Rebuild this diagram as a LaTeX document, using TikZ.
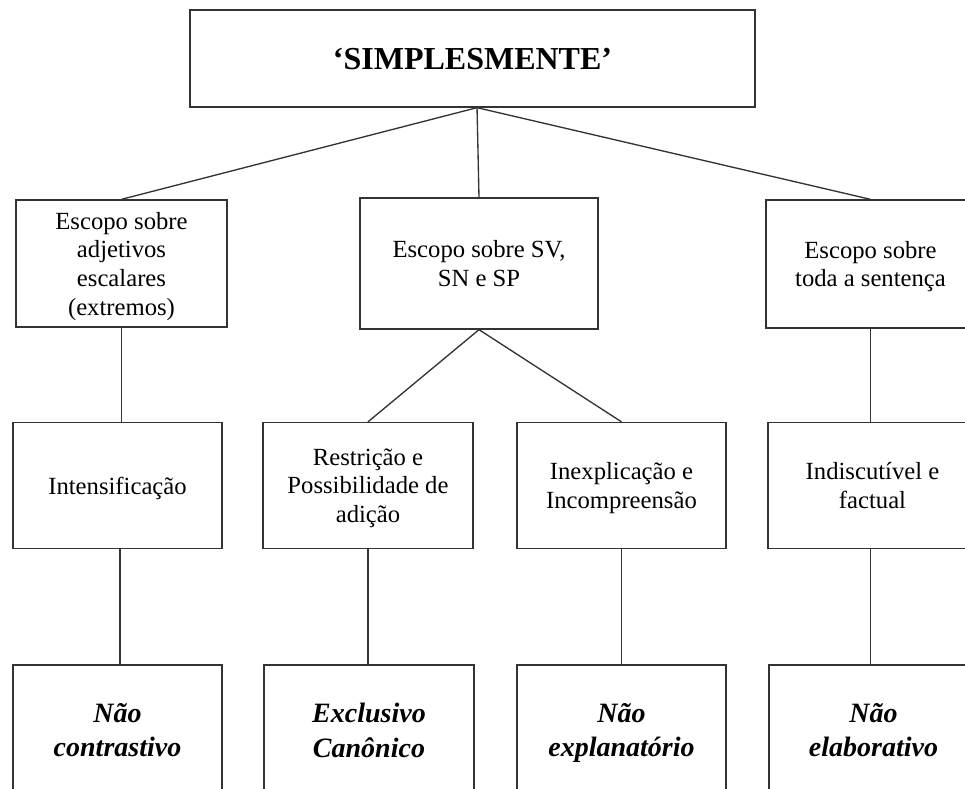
\documentclass[tikz,border=0pt]{standalone}
\usepackage{fontspec}
\setmainfont{Liberation Serif}
\usetikzlibrary{shapes,arrows,positioning}

\begin{document}
\begin{tikzpicture}[x=0.75pt, y=-0.75pt,
  box/.style={draw=black!80, line width=1pt, rectangle, align=center, inner sep=2pt,
    text depth=0pt, font=\fontsize{18.5}{21.5}\selectfont},
  head/.style={box, font=\fontsize{24}{28}\selectfont\bfseries},
  tipo/.style={box, font=\fontsize{21}{26}\selectfont\bfseries\itshape},
  link/.style={draw=black!80, line width=1pt}]
\useasboundingbox (0,0) rectangle (965,789);
\clip (0,0) rectangle (965,789);

\node (simplesmente) [head, minimum width=423.75pt, minimum height=72.75pt] at (472.5,58.5) {‘SIMPLESMENTE’};

\node (adjetivos) [box, minimum width=158.25pt, minimum height=95.25pt] at (121.5,263.5) {Escopo sobre\\adjetivos\\escalares\\(extremos)};
\node (sintagmas) [box, minimum width=178.5pt, minimum height=98.25pt] at (479,263.5) {Escopo sobre SV,\\SN e SP};
\node (sentenca) [box, minimum width=156.75pt, minimum height=96pt] at (870.5,264) {Escopo sobre\\toda a sentença};

\node (intens) [box, minimum width=156.75pt, minimum height=94.5pt] at (117.5,485.5) {Intensificação};
\node (restricao) [box, minimum width=157.5pt, minimum height=94.5pt] at (368,485.5) {Restrição e\\Possibilidade de\\adição};
\node (inexpl) [box, minimum width=156.75pt, minimum height=94.5pt] at (621.5,485.5) {Inexplicação e\\Incompreensão};
\node (indisc) [box, minimum width=156.75pt, minimum height=94.5pt] at (872.5,485.5) {Indiscutível e\\factual};

\node (contrast) [tipo, minimum width=156.75pt, minimum height=97.5pt] at (117.5,730) {Não\\contrastivo};
\node (exclusivo) [tipo, minimum width=157.5pt, minimum height=97.5pt] at (369,730) {Exclusivo\\Canônico};
\node (explan) [tipo, minimum width=156.75pt, minimum height=97.5pt] at (621.5,730) {Não\\explanatório};
\node (elab) [tipo, minimum width=156.75pt, minimum height=97.5pt] at (873.5,730) {Não\\elaborativo};

\draw[link] ([xshift=3.4pt]simplesmente.south) -- (adjetivos.north);
\draw[link] ([xshift=3.4pt]simplesmente.south) -- (sintagmas.north);
\draw[link] ([xshift=3.4pt]simplesmente.south) -- (sentenca.north);

\draw[link] (adjetivos.south) -- (adjetivos.south |- intens.north);
\draw[link] (sintagmas.south) -- (restricao.north);
\draw[link] (sintagmas.south) -- (inexpl.north);
\draw[link] (sentenca.south) -- (sentenca.south |- indisc.north);

\draw[link] ([xshift=1.9pt]intens.south) -- ([xshift=1.9pt]contrast.north);
\draw[link] (restricao.south) -- (restricao.south |- exclusivo.north);
\draw[link] (inexpl.south) -- (explan.north);
\draw[link] ([xshift=-1.5pt]indisc.south) -- ([xshift=-1.5pt]indisc.south |- elab.north);
\end{tikzpicture}
\end{document}
